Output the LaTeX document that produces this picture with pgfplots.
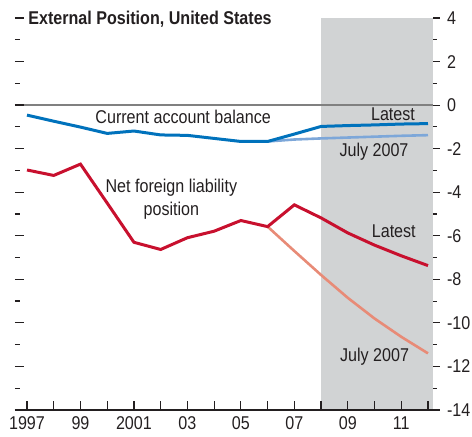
\documentclass[border=0pt]{standalone}
\usepackage{fontspec}
\setmainfont{Liberation Sans}[FakeStretch=0.87]
\usepackage{pgfplots}
\pgfplotsset{compat=1.18}
\definecolor{shade}{RGB}{209,211,212}
\definecolor{cablue}{RGB}{0,114,188}
\definecolor{calight}{RGB}{125,167,217}
\definecolor{nfred}{RGB}{200,16,46}
\definecolor{nflight}{RGB}{232,139,119}
\definecolor{txt}{RGB}{35,31,32}
\definecolor{zline}{RGB}{128,128,128}

\pgfplotstableread{
x y
1997 -0.46
1998 -0.74
1999 -1.01
2000 -1.30
2001 -1.19
2002 -1.37
2003 -1.39
2004 -1.53
2005 -1.67
2006 -1.67
2007 -1.33
2008 -0.98
2009 -0.94
2010 -0.91
2011 -0.87
2012 -0.85
}\caLatest
\pgfplotstableread{
x y
2006 -1.67
2007 -1.58
2008 -1.53
2009 -1.49
2010 -1.45
2011 -1.41
2012 -1.38
}\caJuly
\pgfplotstableread{
x y
1997 -2.98
1998 -3.23
1999 -2.71
2000 -4.50
2001 -6.30
2002 -6.63
2003 -6.09
2004 -5.79
2005 -5.30
2006 -5.58
2007 -4.58
2008 -5.18
2009 -5.87
2010 -6.43
2011 -6.92
2012 -7.37
}\nfLatest
\pgfplotstableread{
x y
2006 -5.58
2007 -6.70
2008 -7.80
2009 -8.85
2010 -9.80
2011 -10.64
2012 -11.40
}\nfJuly

\begin{document}
\begin{tikzpicture}[font=\fontsize{9.25}{11.5}\selectfont, text=txt]
\useasboundingbox (-7.5pt,-13.5pt) rectangle (228.5pt,205pt);
\pgfplotsset{
  base/.style={
    at={(0,0)}, anchor=south west,
    scale only axis, width=209pt, height=196pt,
    xmin=1996.551, xmax=2012.187, ymin=-14, ymax=4,
    axis line style={draw=none},
    clip mode=individual,
    ytick={-14,-12,...,4}, minor y tick num=1,
    every tick/.style={txt, line width=0.6pt},
    tick label style={font=\fontsize{9.25}{11.5}\selectfont, text=txt},
    /pgf/number format/assume math mode=true,
  }
}
\begin{axis}[base,
  axis on top,
  tick align=inside,
  major tick length=4.5pt, minor tick length=2.5pt,
  xtick={1997,...,2012},
  xticklabels={1997,,99,,2001,,03,,05,,07,,09,,11,},
  xtick pos=bottom, ytick pos=left,
  yticklabels={},
]
\addplot[fill=shade, draw=none] coordinates {(2008,-14) (2008,4) (2012.187,4) (2012.187,-14)} -- cycle;
\addplot[zline, line width=0.8pt] coordinates {(1996.551,0) (2012.187,0)};
\addplot[calight, line width=1.3pt] table[x=x,y=y] {\caJuly};
\addplot[nflight, line width=1.3pt] table[x=x,y=y] {\nfJuly};
\addplot[cablue, line width=1.5pt] table[x=x,y=y] {\caLatest};
\addplot[nfred, line width=1.5pt] table[x=x,y=y] {\nfLatest};
\node at (axis cs:2002.84,-0.55) {Current account balance};
\node at (axis cs:2010.69,-0.43) {Latest};
\node at (axis cs:2009.98,-2.12) {July 2007};
\node[align=center] at (axis cs:2002.4,-4.33) {Net foreign liability\\position};
\node at (axis cs:2010.72,-5.80) {Latest};
\node at (axis cs:2010.0,-11.54) {July 2007};
\node[anchor=base west, inner sep=0pt, xshift=6.5pt, yshift=-3.5pt, font=\fontsize{9.25}{11.5}\selectfont\bfseries] at (rel axis cs:0,1) {External Position, United States};
\draw[txt, line width=0.6pt] (rel axis cs:0,0) -- (rel axis cs:1,0);
\end{axis}
\begin{axis}[base,
  tick align=outside,
  major tick length=3.5pt, minor tick length=2pt,
  xtick=\empty,
  ytick pos=right, yticklabel pos=right,
  yticklabels={-14,-12,-10,-8,-6,-4,-2,0,2,4},
]
\end{axis}
\end{tikzpicture}
\end{document}
